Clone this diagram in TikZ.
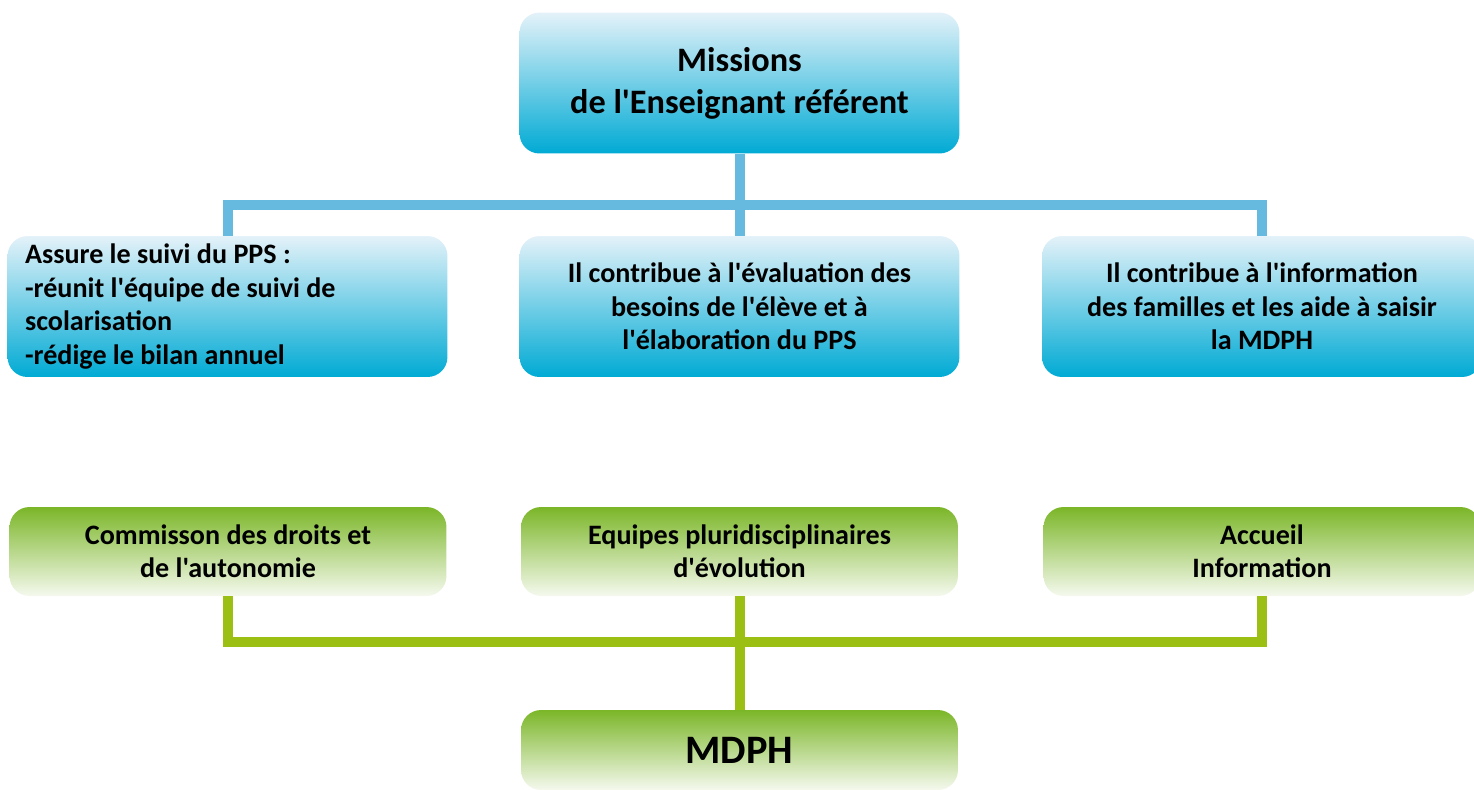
\documentclass[tikz,border=0pt]{standalone}
\usepackage{fontspec}
\newfontfamily\calibri{Carlito}
\usetikzlibrary{positioning}

\definecolor{bluetop}{HTML}{E4F2F9}
\definecolor{bluebot}{HTML}{00AAD4}
\definecolor{bluelink}{HTML}{67BADF}
\definecolor{greentop}{HTML}{7BB628}
\definecolor{greenbot}{HTML}{F5F9EE}
\definecolor{greenlink}{HTML}{9BC013}

\tikzset{
  bluebox/.style={rectangle,rounded corners=0.4cm,top color=bluetop,bottom color=bluebot,
    minimum width=8.8cm,minimum height=2.82cm,inner ysep=0pt,align=center,
    font=\calibri\bfseries\fontsize{16}{19}\selectfont},
  greenbox/.style={rectangle,rounded corners=0.4cm,top color=greentop,bottom color=greenbot,
    minimum width=8.74cm,minimum height=1.78cm,inner ysep=0pt,align=center,
    font=\calibri\bfseries\fontsize{16}{19}\selectfont},
  bluewire/.style={draw=bluelink,line width=0.2cm},
  greenwire/.style={draw=greenlink,line width=0.2cm}
}

\begin{document}
\begin{tikzpicture}[x=0.02cm,y=-0.02cm]
  \useasboundingbox (0,0) rectangle (1474,789);

  % blue part
  \node[bluebox,font=\calibri\bfseries\fontsize{19.5}{24}\selectfont] (mission) at (739.5,83) {Missions\\de l'Enseignant référent};
  \node[bluebox,align=flush left,text width=8.1cm,inner xsep=0.34cm] (suivi) at (227.5,306.5)
    {Assure le suivi du PPS :\\-réunit l'équipe de suivi de\\scolarisation\\-rédige le bilan annuel};
  \node[bluebox] (eval) at (739.5,306.5) {Il contribue à l'évaluation des\\besoins de l'élève et à\\l'élaboration du PPS};
  \node[bluebox] (info) at (1262,306.5) {Il contribue à l'information\\des familles et les aide à saisir\\la MDPH};

  \coordinate (hub) at (739.5,205);
  \draw[bluewire] (mission.south) -- (hub);
  \draw[bluewire] (suivi.north) |- (hub) -| (info.north);
  \draw[bluewire] (hub) -- (eval.north);

  % green part
  \node[greenbox] (cda) at (228,551.5) {Commisson des droits et\\de l'autonomie};
  \node[greenbox] (epe) at (739.5,551.5) {Equipes pluridisciplinaires\\d'évolution};
  \node[greenbox] (accueil) at (1262,551.5) {Accueil\\Information};
  \node[greenbox,minimum height=1.6cm,font=\calibri\bfseries\fontsize{23}{26}\selectfont] (mdph) at (739.5,750) {MDPH};

  \coordinate (bus) at (739.5,642);
  \draw[greenwire] (cda.south) |- (bus) -| (accueil.south);
  \draw[greenwire] (epe.south) -- (mdph.north);
\end{tikzpicture}
\end{document}
